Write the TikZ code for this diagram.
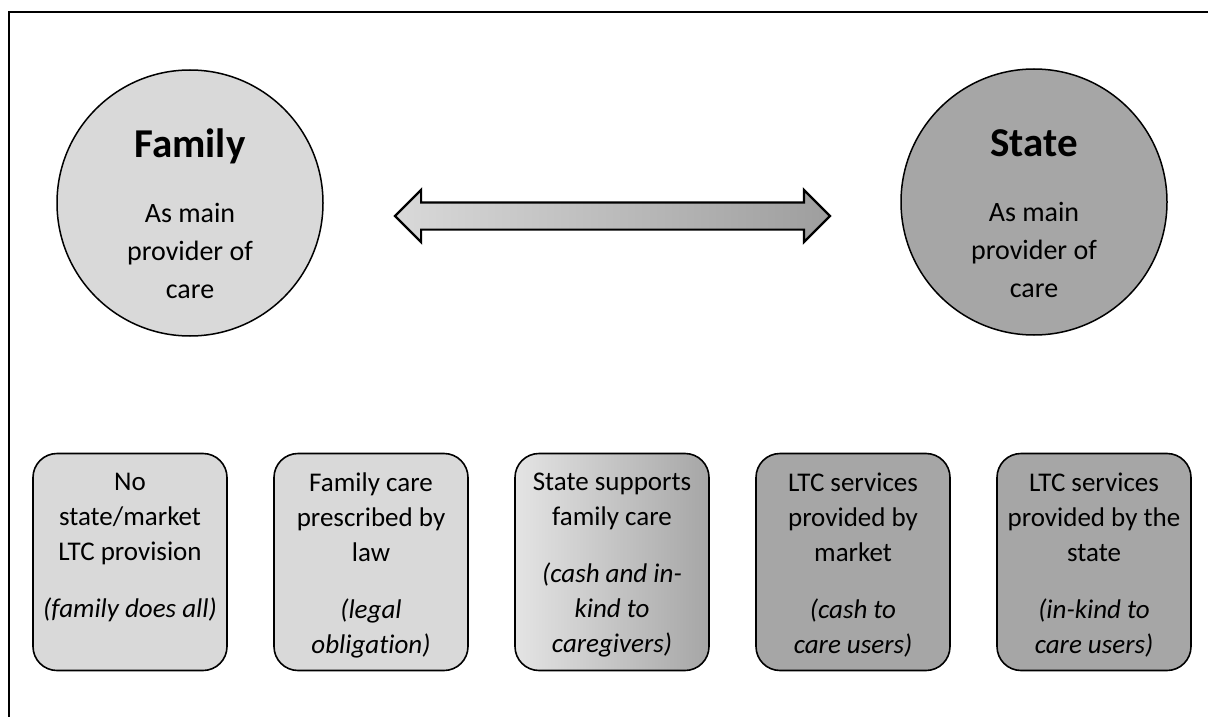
\documentclass[tikz,border=0pt]{standalone}
\usepackage{fontspec}
\setmainfont{Carlito}[Ligatures=CommonOff]
\usetikzlibrary{positioning,shapes.arrows}
\definecolor{lightgr}{HTML}{D9D9D9}
\definecolor{darkgr}{HTML}{A6A6A6}
\definecolor{palegr}{HTML}{E4E4E4}
\definecolor{arrowgr}{HTML}{9E9E9E}

\begin{document}
\begin{tikzpicture}[x=1pt, y=-1pt, node distance=241pt,
  circ/.style = {draw, circle, line width=1.5pt, minimum size=266pt},
  circtext/.style = {align=center, inner sep=0pt, font=\fontsize{28}{38}\selectfont},
  box/.style = {draw, rounded corners=24pt, line width=1.6pt, minimum width=194pt, minimum height=217pt},
  boxtext/.style = {align=center, inner sep=0pt, font=\fontsize{27}{35}\selectfont}]
\useasboundingbox (0,0) rectangle (1208,717);
\draw[line width=1.5pt] (9,717) -- (9,12) -- (1208,12);

% the two main providers
\node[circ, fill=lightgr] (fam) at (190,203) {};
\node[circ, fill=darkgr] (st) at (1034,202) {};
\node[circtext, anchor=north] (famtxt) at (190,129) {{\fontsize{41}{41}\selectfont\bfseries Family}\\[27pt]As main\\provider of\\care};
\node[circtext, anchor=north] (sttxt) at (1034,129) {{\fontsize{41}{41}\selectfont\bfseries State}\\[27pt]As main\\provider of\\care};

\node[double arrow, draw, line width=2.2pt, left color=lightgr, right color=arrowgr,
  minimum height=435pt, inner xsep=0pt, inner ysep=12.5pt,
  double arrow head extend=12.5pt, double arrow tip angle=90] (arr) at (612.5,216) {};

% the five arrangements
\node[box, fill=lightgr] (b1) at (130,562) {};
\node[box, fill=lightgr] (b2) [right of=b1] {};
\node[box, left color=palegr, right color=darkgr] (b3) [right of=b2] {};
\node[box, fill=darkgr] (b4) [right of=b3] {};
\node[box, fill=darkgr] (b5) [right of=b4] {};

\node[boxtext, below=20pt of b1.north] (t1) {No\\state/market\\LTC provision\\[22pt]\textit{(family does all)}};
\node[boxtext, below=20pt of b2.north] (t2) {Family care\\prescribed by\\law\\[22pt]\textit{(legal}\\\textit{obligation)}};
\node[boxtext, below=20pt of b3.north] (t3) {State supports\\family care\\[22pt]\textit{(cash and in-}\\\textit{kind to}\\\textit{caregivers)}};
\node[boxtext, below=20pt of b4.north] (t4) {LTC services\\provided by\\market\\[22pt]\textit{(cash to}\\\textit{care users)}};
\node[boxtext, below=20pt of b5.north] (t5) {LTC services\\provided by the\\state\\[22pt]\textit{(in-kind to}\\\textit{care users)}};
\end{tikzpicture}
\end{document}
